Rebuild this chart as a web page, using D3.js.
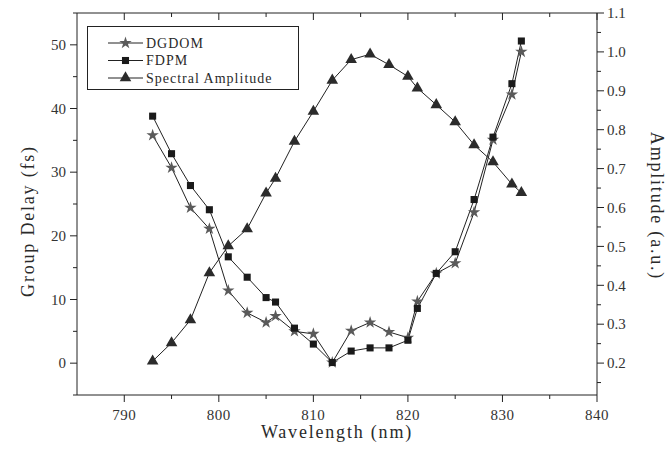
<!DOCTYPE html>
<html>
<head>
<meta charset="utf-8">
<script src="https://cdn.jsdelivr.net/npm/d3@7"></script>
<style>
  html, body { margin: 0; padding: 0; background: #fff; }
</style>
</head>
<body>
<svg id="chart" width="671" height="457"></svg>
<script>
// wavelength samples (nm)
const wavelengths = [793, 795, 797, 799, 801, 803, 805, 806, 808, 810, 812, 814, 816, 818, 820, 821, 823, 825, 827, 829, 831, 832];
// group delay (fs)
const dgdom = [35.8, 30.7, 24.4, 21.1, 11.4, 7.9, 6.4, 7.4, 5.0, 4.6, 0.1, 5.1, 6.4, 4.9, 4.0, 9.7, 14.1, 15.7, 23.7, 35.1, 42.2, 48.9];
const fdpm = [38.8, 32.9, 27.9, 24.1, 16.7, 13.5, 10.3, 9.6, 5.5, 3.0, 0.1, 1.9, 2.4, 2.4, 3.6, 8.6, 14.1, 17.5, 25.7, 35.5, 43.9, 50.6];
// spectral amplitude (a.u.)
const amplitude = [0.205, 0.252, 0.311, 0.432, 0.501, 0.545, 0.637, 0.675, 0.770, 0.847, 0.927, 0.980, 0.994, 0.967, 0.937, 0.907, 0.864, 0.820, 0.761, 0.717, 0.660, 0.638];

const xTicks = [790, 800, 810, 820, 830, 840];
const leftTicks = [0, 10, 20, 30, 40, 50];
const rightTicks = [0.2, 0.3, 0.4, 0.5, 0.6, 0.7, 0.8, 0.9, 1.0, 1.1];
const legendNames = ['DGDOM', 'FDPM', 'Spectral Amplitude'];

const FONT = "'Liberation Serif', Tinos, 'Times New Roman', Times, serif";

const svg = d3.select('#chart');
const margin = { top: 13, right: 74, bottom: 62, left: 77 };
const W = 671, H = 457;
const x0 = margin.left, x1 = W - margin.right, y0 = margin.top, y1 = H - margin.bottom;

const x = d3.scaleLinear().domain([785, 840]).range([x0, x1]);
const yL = d3.scaleLinear().domain([-5, 55]).range([y1, y0]);
const yR = d3.scaleLinear().domain([0.118, 1.1]).range([y1, y0]);

const ink = '#222';
const majorLen = 7, minorLen = 4;

function txt(sel) {
  return sel.append('text').attr('font-family', FONT).attr('fill', '#2a2a2a');
}

// frame lines
svg.append('line').attr('x1', x0).attr('x2', x1).attr('y1', y1).attr('y2', y1).attr('stroke', ink);
svg.append('line').attr('x1', x0).attr('x2', x1).attr('y1', y0).attr('y2', y0).attr('stroke', ink);
svg.append('line').attr('x1', x0).attr('x2', x0).attr('y1', y0).attr('y2', y1).attr('stroke', ink);
svg.append('line').attr('x1', x1).attr('x2', x1).attr('y1', y0).attr('y2', y1).attr('stroke', ink);

// bottom + top ticks
d3.range(790, 841, 5).forEach(v => {
  const major = v % 10 === 0;
  const len = major ? majorLen : minorLen;
  svg.append('line').attr('x1', x(v)).attr('x2', x(v)).attr('y1', y1).attr('y2', y1 + len).attr('stroke', ink);
  svg.append('line').attr('x1', x(v)).attr('x2', x(v)).attr('y1', y0).attr('y2', y0 + len).attr('stroke', ink);
});
xTicks.forEach(v => {
  txt(svg).attr('x', x(v)).attr('y', y1 + 25).attr('text-anchor', 'middle')
    .attr('font-size', 15).attr('fill', '#333').attr('letter-spacing', 0.5).text(v);
});

// left ticks
d3.range(-5, 56, 5).forEach(v => {
  const len = v % 10 === 0 ? majorLen : minorLen;
  svg.append('line').attr('x1', x0 - len).attr('x2', x0).attr('y1', yL(v)).attr('y2', yL(v)).attr('stroke', ink);
});
leftTicks.forEach(v => {
  txt(svg).attr('x', x0 - 11).attr('y', yL(v)).attr('dy', '0.35em').attr('text-anchor', 'end')
    .attr('font-size', 15).attr('fill', '#333').text(v);
});

// right ticks
d3.range(0.15, 1.101, 0.05).forEach(v => {
  const major = Math.abs(Math.round(v * 10) - v * 10) < 1e-6;
  const len = major ? majorLen : minorLen;
  svg.append('line').attr('x1', x1).attr('x2', x1 + len).attr('y1', yR(v)).attr('y2', yR(v)).attr('stroke', ink);
});
rightTicks.forEach(v => {
  txt(svg).attr('x', x1 + 10).attr('y', yR(v)).attr('dy', '0.35em').attr('text-anchor', 'start')
    .attr('font-size', 15).attr('fill', '#333').text(v.toFixed(1));
});

// axis titles
txt(svg).attr('x', (x0 + x1) / 2).attr('y', 438).attr('text-anchor', 'middle')
  .attr('font-size', 18).attr('letter-spacing', 1.8).text('Wavelength (nm)');
txt(svg).attr('transform', `translate(34,221) rotate(-90)`).attr('text-anchor', 'middle')
  .attr('font-size', 18).attr('letter-spacing', 1.8).text('Group Delay (fs)');
txt(svg).attr('transform', `translate(651,206) rotate(90)`).attr('text-anchor', 'middle')
  .attr('font-size', 18).attr('letter-spacing', 1.8).text('Amplitude (a.u.)');

// series
const series = [
  { name: legendNames[0], vals: dgdom, y: yL, sym: d3.symbolStar, size: 48, fill: '#5a5a5a' },
  { name: legendNames[1], vals: fdpm, y: yL, sym: d3.symbolSquare, size: 50, fill: '#1a1a1a' },
  { name: legendNames[2], vals: amplitude, y: yR, sym: d3.symbolTriangle, size: 58, fill: '#2b2b2b' }
];

series.forEach(s => {
  const line = d3.line().x((d, i) => x(wavelengths[i])).y(d => s.y(d));
  svg.append('path').attr('d', line(s.vals)).attr('fill', 'none').attr('stroke', ink).attr('stroke-width', 1);
});
series.forEach(s => {
  const sym = d3.symbol().type(s.sym).size(s.size);
  svg.append('g').selectAll('path').data(s.vals).join('path')
    .attr('transform', (d, i) => `translate(${x(wavelengths[i])},${s.y(d)})`)
    .attr('d', sym).attr('fill', s.fill).attr('stroke', 'none');
});

// legend
const lg = svg.append('g');
lg.append('rect').attr('x', 87.5).attr('y', 26.5).attr('width', 211).attr('height', 63)
  .attr('fill', '#fff').attr('stroke', ink).attr('stroke-width', 1);
series.forEach((s, i) => {
  const ly = 43 + i * 17.5;
  lg.append('line').attr('x1', 108).attr('x2', 143).attr('y1', ly).attr('y2', ly).attr('stroke', ink);
  lg.append('path').attr('transform', `translate(125.5,${ly})`)
    .attr('d', d3.symbol().type(s.sym).size(s.size)).attr('fill', s.fill);
  txt(lg).attr('x', 146).attr('y', ly).attr('dy', '0.35em')
    .attr('font-size', 14).attr('letter-spacing', 1).text(s.name);
});
</script>
</body>
</html>
